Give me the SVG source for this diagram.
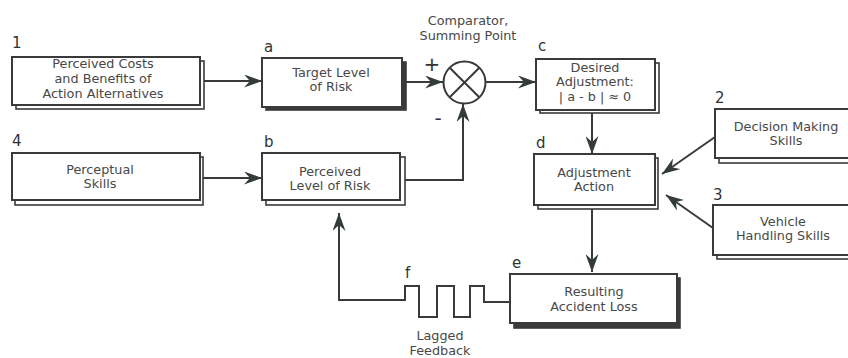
<svg xmlns="http://www.w3.org/2000/svg" width="848" height="358" viewBox="0 0 848 358">
  <style>
    .box { fill: #ffffff; stroke: #3a3a3a; stroke-width: 2; }
    .sh { fill: #ffffff; stroke: #3a3a3a; stroke-width: 1.6; }
    .shd { fill: #3a3a3a; stroke: #3a3a3a; stroke-width: 1.6; }
    .t { font-family: "DejaVu Sans", Verdana, sans-serif; font-size: 12.8px; fill: #484848; text-anchor: middle; }
    .lbl { font-family: "DejaVu Sans", Verdana, sans-serif; font-size: 15px; fill: #333333; }
    .sign { font-family: "DejaVu Sans", Verdana, sans-serif; font-size: 20px; fill: #333333; text-anchor: middle; }
    .ln { fill: none; stroke: #3a3a3a; stroke-width: 2; }
  </style>
  <defs>
    <marker id="arr" viewBox="0 0 18 13" refX="18" refY="6.5" markerWidth="18" markerHeight="13" orient="auto" markerUnits="userSpaceOnUse">
      <path d="M0,0 L18,6.5 L0,13 L6,6.5 Z" fill="#333b3b"/>
    </marker>
  </defs>
  <rect width="848" height="358" fill="#ffffff"/>

  <!-- 1: costs and benefits -->
  <g id="node-1">
    <rect class="sh" x="16" y="61" width="188" height="48"/>
    <rect class="box" x="12" y="57" width="188" height="48"/>
    <text class="lbl" x="12" y="48">1</text>
    <text class="t" x="103" y="68">Perceived Costs</text>
    <text class="t" x="103" y="83">and Benefits of</text>
    <text class="t" x="103" y="98">Action Alternatives</text>
  </g>

  <!-- 4: perceptual skills -->
  <g id="node-4">
    <rect class="sh" x="15" y="157" width="188" height="48"/>
    <rect class="box" x="12" y="153" width="188" height="47"/>
    <text class="lbl" x="12" y="146">4</text>
    <text class="t" x="100" y="174">Perceptual</text>
    <text class="t" x="100" y="188">Skills</text>
  </g>

  <!-- a: target level of risk -->
  <g id="node-a">
    <rect class="shd" x="266" y="62" width="140" height="48"/>
    <rect class="box" x="262" y="58" width="140" height="49"/>
    <text class="lbl" x="264" y="52">a</text>
    <text class="t" x="331" y="77">Target Level</text>
    <text class="t" x="331" y="91">of Risk</text>
  </g>

  <!-- b: perceived level of risk -->
  <g id="node-b">
    <rect class="sh" x="266" y="157" width="139" height="48"/>
    <rect class="box" x="262" y="153" width="138" height="47"/>
    <text class="lbl" x="264" y="147">b</text>
    <text class="t" x="330" y="176">Perceived</text>
    <text class="t" x="330" y="190">Level of Risk</text>
  </g>

  <!-- comparator / summing point -->
  <g id="node-comparator">
    <circle cx="464.5" cy="82.5" r="21" fill="#ffffff" stroke="#3a3a3a" stroke-width="2"/>
    <line class="ln" x1="449.7" y1="67.7" x2="479.3" y2="97.3"/>
    <line class="ln" x1="479.3" y1="67.7" x2="449.7" y2="97.3"/>
    <text class="t" x="468" y="25">Comparator,</text>
    <text class="t" x="468" y="40">Summing Point</text>
    <text class="sign" x="432" y="71">+</text>
    <text class="sign" x="438" y="125">-</text>
  </g>

  <!-- c: desired adjustment -->
  <g id="node-c">
    <rect class="sh" x="540" y="63" width="119" height="50"/>
    <rect class="box" x="536" y="59" width="119" height="51"/>
    <text class="lbl" x="538" y="51">c</text>
    <text class="t" x="595" y="72">Desired</text>
    <text class="t" x="595" y="86">Adjustment:</text>
    <text class="t" x="595" y="101">| a - b | ≈ 0</text>
  </g>

  <!-- d: adjustment action -->
  <g id="node-d">
    <rect class="sh" x="538" y="158" width="120" height="51"/>
    <rect class="box" x="534" y="154" width="121" height="51"/>
    <text class="lbl" x="536" y="148">d</text>
    <text class="t" x="594" y="177">Adjustment</text>
    <text class="t" x="594" y="191">Action</text>
  </g>

  <!-- 2: decision making skills -->
  <g id="node-2">
    <rect class="sh" x="719" y="113" width="135" height="50"/>
    <rect class="box" x="715" y="109" width="135" height="49"/>
    <text class="lbl" x="715" y="103">2</text>
    <text class="t" x="786" y="131">Decision Making</text>
    <text class="t" x="786" y="145">Skills</text>
  </g>

  <!-- 3: vehicle handling skills -->
  <g id="node-3">
    <rect class="sh" x="717" y="209" width="137" height="50"/>
    <rect class="box" x="713" y="205" width="137" height="50"/>
    <text class="lbl" x="713" y="200">3</text>
    <text class="t" x="783" y="226">Vehicle</text>
    <text class="t" x="783" y="240">Handling Skills</text>
  </g>

  <!-- e: resulting accident loss -->
  <g id="node-e">
    <rect class="shd" x="514" y="278" width="166" height="50"/>
    <rect class="box" x="510" y="274" width="167" height="49"/>
    <text class="lbl" x="512" y="268">e</text>
    <text class="t" x="594" y="296">Resulting</text>
    <text class="t" x="594" y="311">Accident Loss</text>
  </g>

  <!-- f: lagged feedback label -->
  <g id="node-f">
    <text class="lbl" x="405" y="278">f</text>
    <text class="t" x="440" y="340">Lagged</text>
    <text class="t" x="440" y="355">Feedback</text>
  </g>

  <!-- connectors -->
  <g id="connectors">
    <line class="ln" x1="204" y1="81" x2="262" y2="81" marker-end="url(#arr)"/>
    <line class="ln" x1="203" y1="178" x2="262" y2="178" marker-end="url(#arr)"/>
    <line class="ln" x1="406" y1="82" x2="443" y2="82" marker-end="url(#arr)"/>
    <polyline class="ln" points="405,180 463,180 463,104" marker-end="url(#arr)"/>
    <line class="ln" x1="486" y1="82" x2="536" y2="82" marker-end="url(#arr)"/>
    <line class="ln" x1="592" y1="113" x2="592" y2="154" marker-end="url(#arr)"/>
    <line class="ln" x1="715" y1="137" x2="662" y2="174" marker-end="url(#arr)"/>
    <line class="ln" x1="713" y1="228" x2="666" y2="195" marker-end="url(#arr)"/>
    <line class="ln" x1="592" y1="209" x2="592" y2="272" marker-end="url(#arr)"/>
    <!-- lagged feedback: square wave back to perceived risk -->
    <polyline class="ln" points="510,302 484,302 484,286 470,286 470,317 454,317 454,286 437,286 437,317 419,317 419,286 405,286 405,300 339,300 339,213" marker-end="url(#arr)"/>
  </g>
</svg>
